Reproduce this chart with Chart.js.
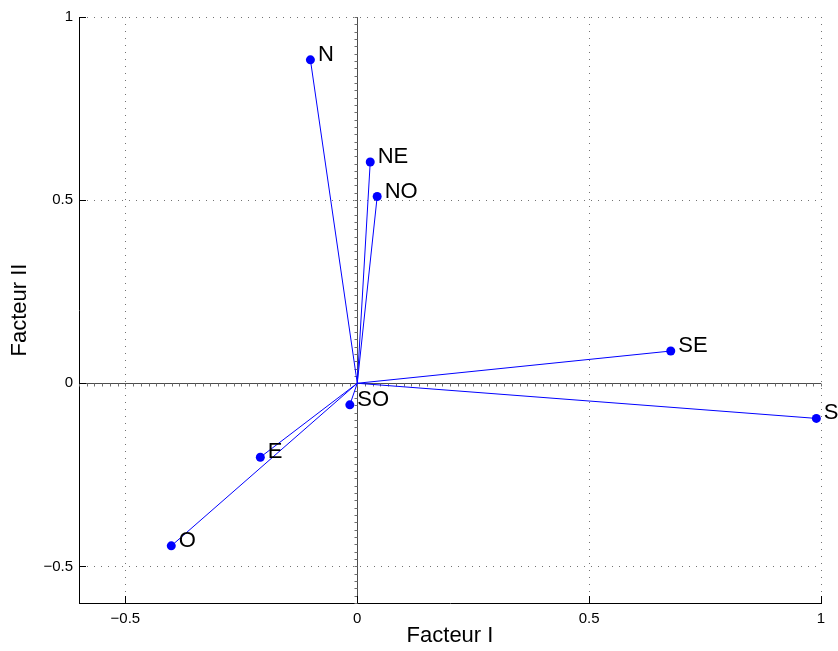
<!DOCTYPE html>
<html>
<head>
<meta charset="utf-8">
<script src="https://cdn.jsdelivr.net/npm/chart.js@4/dist/chart.umd.min.js"></script>
<style>
  html, body { margin: 0; padding: 0; background: #ffffff; }
  #wrap { width: 838px; height: 651px; position: relative; }
</style>
</head>
<body>
<div id="wrap"><canvas id="c" width="838" height="651"></canvas></div>
<script>
// ---- Data ----
const pointLabels = ['N', 'NE', 'NO', 'SE', 'S', 'SO', 'E', 'O'];
const factorI  = [-0.101, 0.028, 0.043, 0.676, 0.990, -0.016, -0.209, -0.401];
const factorII = [ 0.883, 0.604, 0.510, 0.088, -0.096, -0.059, -0.202, -0.444];
const xTickValues = [-0.5, 0, 0.5, 1];
const yTickValues = [-0.5, 0, 0.5, 1];
const xRange = [-0.6, 1];
const yRange = [-0.6, 1];
const xTitle = 'Facteur I';
const yTitle = 'Facteur II';

// ---- Styles ----
const FONT = "'Liberation Sans', Arial, Helvetica, sans-serif";
const BLUE = '#0000ff';
const fmt = v => (v < 0 ? '\u2212' + String(Math.abs(v)) : String(v));

const datasets = pointLabels.map((lab, i) => ({
  label: lab,
  data: [{x: 0, y: 0}, {x: factorI[i], y: factorII[i]}],
  showLine: true,
  borderColor: BLUE,
  borderWidth: 1,
  backgroundColor: BLUE,
  pointBackgroundColor: BLUE,
  pointBorderColor: BLUE,
  pointBorderWidth: 0,
  pointRadius: [0, 4.5],
  pointHoverRadius: [0, 4.5],
  clip: false
}));

// zero axes with minor tick marks, inner major ticks
const axesPlugin = {
  id: 'axesPlugin',
  beforeDatasetsDraw(chart) {
    const {ctx, chartArea: a, scales: {x, y}} = chart;
    const x0 = Math.round(x.getPixelForValue(0)) + 0.5;
    const y0 = Math.round(y.getPixelForValue(0)) + 0.5;
    ctx.save();
    ctx.strokeStyle = '#4d4d4d';
    ctx.lineWidth = 1;
    ctx.beginPath();
    ctx.moveTo(a.left, y0); ctx.lineTo(a.right, y0);
    ctx.moveTo(x0, a.top); ctx.lineTo(x0, a.bottom);
    ctx.stroke();
    // minor tick marks along the zero lines
    ctx.strokeStyle = '#6e6e6e';
    ctx.beginPath();
    const xStep = 1 / 60, yStep = 0.02;
    for (let k = Math.ceil(xRange[0] / xStep); k <= Math.floor(xRange[1] / xStep); k++) {
      const px = Math.round(x.getPixelForValue(k * xStep)) + 0.5;
      ctx.moveTo(px, y0); ctx.lineTo(px, y0 + 3);
    }
    for (let k = Math.ceil(yRange[0] / yStep); k <= Math.floor(yRange[1] / yStep); k++) {
      const py = Math.round(y.getPixelForValue(k * yStep)) + 0.5;
      ctx.moveTo(x0, py); ctx.lineTo(x0 - 3, py);
    }
    ctx.stroke();
    ctx.restore();
  },
  afterDraw(chart) {
    const {ctx, chartArea: a, scales: {x, y}} = chart;
    ctx.save();
    ctx.strokeStyle = '#000';
    ctx.lineWidth = 1;
    ctx.beginPath();
    xTickValues.forEach(v => {
      const px = Math.round(x.getPixelForValue(v)) + 0.5;
      ctx.moveTo(px, a.bottom); ctx.lineTo(px, a.bottom - 7);
    });
    yTickValues.forEach(v => {
      const py = Math.round(y.getPixelForValue(v)) + 0.5;
      ctx.moveTo(a.left, py); ctx.lineTo(a.left + 7, py);
    });
    ctx.stroke();
    ctx.restore();
  },
  afterDatasetsDraw(chart) {
    const ctx = chart.ctx;
    ctx.save();
    ctx.fillStyle = '#000';
    ctx.font = '22px ' + FONT;
    ctx.textAlign = 'left';
    ctx.textBaseline = 'middle';
    chart.data.datasets.forEach((ds, i) => {
      const el = chart.getDatasetMeta(i).data[1];
      ctx.fillText(ds.label, el.x + 7.5, el.y - 5);
    });
    ctx.restore();
  }
};

const gridColor = ctx => (ctx.tick && ctx.tick.value === 0) ? 'rgba(0,0,0,0)' : 'rgba(0,0,0,0.55)';

new Chart(document.getElementById('c'), {
  type: 'scatter',
  data: { datasets },
  options: {
    responsive: false,
    animation: false,
    events: [],
    layout: { padding: { left: 0, right: 17, top: 17, bottom: 0 } },
    plugins: { legend: { display: false }, tooltip: { enabled: false } },
    scales: {
      x: {
        type: 'linear',
        min: xRange[0], max: xRange[1],
        afterBuildTicks: s => { s.ticks = xTickValues.map(v => ({value: v})); },
        afterFit: s => { s.height = 48; },
        ticks: { color: '#000', font: { family: FONT, size: 15 }, padding: 7, maxRotation: 0, callback: v => fmt(v) },
        grid: { color: gridColor, lineWidth: 1, drawTicks: false },
        border: { display: true, color: '#000', width: 1, dash: [1, 6] },
        title: { display: true, text: xTitle, color: '#000', font: { family: FONT, size: 22 }, padding: { top: 0, bottom: 2 } }
      },
      y: {
        type: 'linear',
        min: yRange[0], max: yRange[1],
        afterBuildTicks: s => { s.ticks = yTickValues.map(v => ({value: v})); },
        afterFit: s => { s.width = 79; },
        ticks: { color: '#000', font: { family: FONT, size: 15 }, padding: 6, callback: v => fmt(v) },
        grid: { color: gridColor, lineWidth: 1, drawTicks: false },
        border: { display: true, color: '#000', width: 1, dash: [1, 6] },
        title: { display: true, text: yTitle, color: '#000', font: { family: FONT, size: 22 }, padding: { top: 7, bottom: 0 } }
      }
    }
  },
  plugins: [axesPlugin]
});
</script>
</body>
</html>
